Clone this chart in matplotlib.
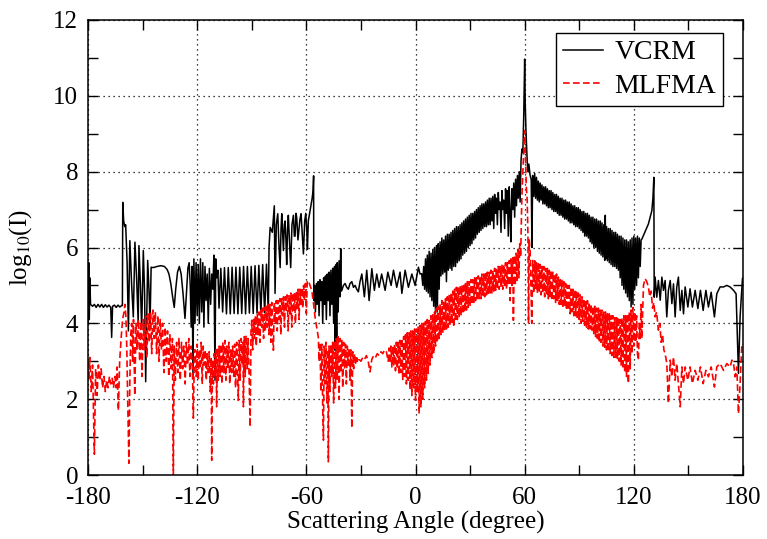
import matplotlib.pyplot as plt
import numpy as np

plt.rcParams['font.family'] = ['Liberation Serif', 'DejaVu Serif']
plt.rcParams['mathtext.fontset'] = 'stix'
plt.rcParams['font.size'] = 18
plt.rcParams['axes.unicode_minus'] = False

# (scattering angle in degree, log10 of intensity)
vcrm_points = [
    (-180.0, 4.0), (-179.6, 5.6), (-179.3, 4.1), (-179.0, 5.2), (-178.6, 4.5),
    (-177.5, 4.45), (-176.5, 4.5), (-175.5, 4.42), (-174.5, 4.5), (-173.5, 4.43),
    (-172.5, 4.5), (-171.5, 4.42), (-170.5, 4.49), (-169.5, 4.43), (-168.5, 4.48),
    (-167.5, 4.42), (-167.0, 3.63), (-166.5, 4.45), (-165.5, 4.48), (-164.5, 4.42),
    (-163.5, 4.48), (-162.5, 4.43), (-161.5, 4.47), (-161.1, 4.47), (-160.9, 7.19),
    (-160.4, 6.7), (-159.8, 6.55), (-159.3, 6.6), (-158.5, 5.6), (-157.8, 3.8),
    (-157.0, 6.18), (-156.0, 5.0), (-155.1, 4.17), (-154.2, 6.14), (-153.3, 5.2),
    (-152.4, 4.0), (-152.0, 6.05), (-151.2, 5.0), (-150.5, 3.85), (-149.6, 5.92),
    (-148.9, 4.8), (-148.3, 2.46), (-147.2, 5.66), (-146.5, 4.9), (-145.9, 4.0),
    (-145.3, 5.48), (-144.1, 5.47), (-142.0, 5.5), (-140.0, 5.52), (-138.0, 5.5),
    (-136.5, 5.42), (-135.5, 5.3), (-134.5, 5.05), (-133.5, 4.7), (-132.6, 4.42),
    (-131.8, 4.9), (-130.8, 5.35), (-129.8, 5.5), (-128.8, 5.3), (-127.8, 4.8),
    (-126.7, 4.13), (-125.9, 4.8), (-125.1, 5.45), (-124.4, 5.6), (-123.8, 5.0),
    (-123.3, 3.9), (-122.8, 5.5), (-122.3, 2.6), (-121.8, 5.7), (-121.2, 4.0),
    (-120.6, 5.6), (-120.0, 4.2), (-119.4, 5.55), (-118.8, 4.0), (-118.2, 5.7),
    (-117.5, 4.3), (-116.9, 5.6), (-116.3, 3.9), (-115.7, 5.5), (-115.1, 4.6),
    (-114.5, 5.3), (-113.9, 4.0), (-113.3, 5.45), (-112.6, 4.5), (-112.0, 5.3),
    (-111.4, 4.9), (-110.8, 5.8), (-110.2, 2.5), (-109.8, 5.7), (-109.2, 5.2),
    (-108.6, 5.4), (-108.0, 4.4), (-107.0, 5.45), (-106.0, 4.3), (-105.0, 5.47),
    (-103.9, 4.25), (-102.9, 5.47), (-101.8, 4.25), (-100.8, 5.48), (-99.7, 4.26),
    (-98.7, 5.48), (-97.6, 4.25), (-96.6, 5.48), (-95.5, 4.26), (-94.5, 5.5),
    (-93.4, 4.25), (-92.4, 5.5), (-91.3, 4.27), (-90.3, 5.5), (-89.2, 4.26),
    (-88.2, 5.52), (-87.1, 4.27), (-86.1, 5.53), (-85.0, 4.27), (-84.0, 5.55),
    (-82.9, 4.28), (-81.9, 5.56), (-80.9, 4.3), (-80.5, 6.0), (-79.9, 6.53),
    (-78.7, 6.4), (-77.6, 7.1), (-77.2, 4.79), (-76.5, 6.6), (-75.7, 6.89),
    (-75.0, 6.0), (-74.4, 5.47), (-73.9, 6.5), (-73.5, 6.89), (-72.6, 5.92),
    (-72.1, 6.6), (-71.7, 6.7), (-71.2, 6.2), (-70.8, 5.55), (-70.3, 6.5),
    (-69.9, 6.85), (-69.2, 6.1), (-68.6, 5.47), (-67.9, 6.6), (-67.1, 6.85),
    (-66.6, 6.3), (-66.2, 6.3), (-65.7, 6.9), (-65.3, 6.8), (-64.6, 6.2),
    (-64.0, 6.5), (-63.5, 6.75), (-62.9, 6.89), (-62.2, 6.3), (-61.6, 5.83),
    (-60.9, 6.7), (-60.3, 6.9), (-59.7, 6.4), (-59.4, 5.95), (-58.9, 6.7),
    (-58.2, 6.9), (-57.5, 7.1), (-56.8, 7.3), (-56.3, 7.5), (-56.0, 7.89),
    (-55.9, 4.6), (-55.5, 5.0), (-55.0, 4.3), (-54.5, 5.05), (-54.0, 4.5),
    (-53.5, 5.1), (-53.0, 4.2), (-52.5, 5.15), (-52.0, 4.6), (-51.5, 5.1),
    (-51.0, 4.0), (-50.5, 5.2), (-50.0, 4.5), (-49.5, 5.25), (-49.0, 4.1),
    (-48.5, 5.3), (-48.0, 4.6), (-47.5, 5.35), (-47.0, 4.2), (-46.5, 5.4),
    (-46.0, 4.5), (-45.5, 5.45), (-45.0, 4.0), (-44.5, 5.5), (-44.2, 3.29),
    (-43.8, 5.55), (-43.3, 3.3), (-43.0, 5.6), (-42.5, 4.3), (-42.0, 5.65),
    (-41.5, 4.7), (-41.1, 5.97), (-40.8, 4.85), (-40.5, 4.87), (-39.6, 5.0),
    (-38.7, 5.05), (-37.8, 4.95), (-36.9, 4.9), (-36.0, 5.05), (-35.0, 5.1),
    (-34.1, 4.95), (-33.2, 5.0), (-32.3, 4.9), (-31.4, 4.83), (-30.5, 5.1),
    (-29.5, 5.3), (-28.1, 4.7), (-26.8, 5.4), (-25.5, 4.6), (-24.0, 5.44),
    (-22.6, 4.87), (-21.3, 5.3), (-20.0, 4.95), (-18.6, 5.3), (-16.7, 4.87),
    (-15.2, 5.35), (-13.4, 5.0), (-12.1, 5.4), (-10.3, 4.95), (-8.5, 5.35),
    (-7.5, 4.79), (-5.7, 5.4), (-3.9, 4.95), (-2.0, 5.3), (-0.2, 5.0),
    (1.6, 5.48), (2.5, 5.3), (3.4, 5.31), (4.0, 5.0), (4.5, 5.5),
    (5.0, 4.9), (5.5, 5.7), (6.0, 4.85), (6.5, 5.8), (7.0, 4.8),
    (7.5, 5.9), (8.0, 4.7), (8.5, 5.85), (9.0, 4.6), (9.5, 5.95),
    (10.0, 4.45), (10.5, 6.0), (11.0, 4.26), (11.5, 6.05), (12.0, 4.3),
    (12.5, 6.1), (13.0, 4.9), (13.5, 6.15), (14.0, 5.25), (14.5, 6.25),
    (15.0, 5.3), (15.5, 6.2), (16.0, 5.35), (16.5, 6.3), (17.0, 5.1),
    (17.5, 6.35), (18.0, 5.4), (18.5, 6.35), (19.0, 5.45), (19.5, 6.4),
    (20.0, 5.4), (20.5, 6.45), (21.0, 5.5), (21.5, 6.5), (22.0, 5.5),
    (22.5, 6.55), (23.0, 5.6), (23.5, 6.55), (24.0, 5.65), (24.5, 6.6),
    (25.0, 5.7), (25.5, 6.65), (26.0, 5.8), (26.5, 6.7), (27.0, 5.85),
    (27.5, 6.75), (28.0, 5.9), (28.5, 6.8), (29.0, 6.0), (29.5, 6.85),
    (30.0, 6.05), (30.5, 6.9), (31.0, 6.1), (31.5, 6.9), (32.0, 6.2),
    (32.5, 6.95), (33.0, 6.25), (33.5, 7.0), (34.0, 6.35), (34.5, 7.05),
    (35.0, 6.4), (35.5, 7.1), (36.0, 6.45), (36.5, 7.15), (37.0, 6.5),
    (37.5, 7.15), (38.0, 6.55), (38.5, 7.2), (39.0, 6.55), (39.5, 7.25),
    (40.0, 6.6), (40.5, 7.3), (41.0, 6.6), (41.5, 7.3), (42.0, 6.7),
    (42.5, 7.35), (43.0, 6.5), (43.5, 7.4), (44.0, 6.9), (44.5, 7.3),
    (45.0, 6.6), (45.5, 7.45), (46.0, 7.0), (46.5, 7.2), (47.0, 6.4),
    (47.5, 7.5), (48.0, 7.0), (48.5, 7.25), (49.0, 6.5), (49.5, 7.55),
    (50.0, 6.9), (50.5, 7.5), (51.0, 6.3), (51.5, 7.6), (52.0, 6.9),
    (52.4, 6.15), (53.0, 7.55), (53.5, 7.0), (54.0, 7.7), (54.5, 6.8),
    (55.0, 7.8), (55.5, 7.1), (56.0, 7.9), (56.5, 7.3), (57.0, 8.0),
    (57.5, 7.2), (58.0, 8.3), (58.5, 8.6), (59.0, 8.5), (59.5, 9.5),
    (60.0, 10.97), (60.3, 9.8), (60.7, 9.1), (61.2, 8.5), (61.7, 8.0),
    (62.3, 8.2), (63.0, 7.9), (63.6, 7.8), (64.0, 6.0), (64.4, 7.9),
    (65.0, 7.35), (65.5, 7.95), (66.0, 7.3), (66.5, 7.85), (67.0, 7.25),
    (67.5, 7.75), (68.0, 7.2), (68.5, 7.7), (69.0, 7.25), (69.5, 7.65),
    (70.0, 7.15), (70.5, 7.6), (71.0, 7.15), (71.5, 7.6), (72.0, 7.1),
    (72.5, 7.55), (73.0, 7.05), (73.5, 7.5), (74.0, 7.05), (74.5, 7.5),
    (75.0, 7.0), (75.5, 7.45), (76.0, 6.95), (76.5, 7.4), (77.0, 6.95),
    (77.5, 7.4), (78.0, 6.9), (78.5, 7.35), (79.0, 6.85), (79.5, 7.3),
    (80.0, 6.85), (80.5, 7.3), (81.0, 6.8), (81.5, 7.25), (82.0, 6.75),
    (82.5, 7.25), (83.0, 6.75), (83.5, 7.2), (84.0, 6.7), (84.5, 7.2),
    (85.0, 6.65), (85.5, 7.15), (86.0, 6.65), (86.5, 7.1), (87.0, 6.6),
    (87.5, 7.1), (88.0, 6.55), (88.5, 7.05), (89.0, 6.55), (89.5, 7.05),
    (90.0, 6.5), (90.5, 7.0), (91.0, 6.45), (91.5, 6.95), (92.0, 6.4),
    (92.5, 6.95), (93.0, 6.3), (93.5, 6.9), (94.0, 6.3), (94.5, 6.9),
    (95.0, 6.25), (95.5, 6.85), (96.0, 6.15), (96.5, 6.8), (97.0, 6.1),
    (97.5, 6.8), (98.0, 6.0), (98.5, 6.75), (99.0, 6.0), (99.5, 6.75),
    (100.0, 5.9), (100.5, 6.7), (101.0, 5.85), (101.5, 6.7), (102.0, 5.8),
    (102.5, 6.65), (103.0, 5.75), (103.5, 6.6), (104.0, 5.66), (104.3, 6.85),
    (104.6, 5.7), (105.0, 6.55), (105.5, 5.65), (106.0, 6.5), (106.5, 5.6),
    (107.0, 6.5), (107.5, 5.55), (108.0, 6.45), (108.5, 5.5), (109.0, 6.4),
    (109.5, 5.5), (110.0, 6.4), (110.5, 5.45), (111.0, 6.35), (111.5, 5.4),
    (112.0, 6.3), (112.5, 5.2), (113.0, 6.3), (113.5, 5.0), (114.0, 6.25),
    (114.5, 4.9), (115.0, 6.2), (115.5, 4.8), (116.0, 6.2), (116.5, 4.7),
    (117.0, 6.15), (117.5, 4.6), (118.0, 6.2), (118.5, 4.43), (119.0, 6.25),
    (119.5, 4.5), (120.0, 6.3), (120.5, 4.9), (121.0, 6.25), (121.5, 5.0),
    (122.0, 6.3), (122.5, 5.2), (123.0, 6.25), (123.5, 5.5), (124.0, 6.2),
    (124.5, 6.23), (126.0, 6.4), (128.0, 6.62), (129.9, 6.97), (130.5, 7.3),
    (131.0, 7.85), (131.2, 4.69), (131.7, 5.22), (132.6, 4.69), (133.5, 5.13),
    (134.5, 4.61), (135.4, 5.22), (136.3, 4.87), (137.2, 5.13), (138.1, 4.17),
    (139.0, 4.87), (140.0, 5.13), (140.9, 4.52), (141.8, 5.04), (142.7, 4.17),
    (143.6, 4.96), (144.5, 5.22), (145.5, 4.34), (146.4, 4.87), (147.3, 4.25),
    (148.2, 4.96), (149.7, 4.43), (150.9, 4.91), (152.2, 4.43), (153.7, 4.87),
    (155.2, 4.39), (156.6, 4.87), (158.1, 4.34), (159.6, 4.87), (161.0, 4.43),
    (162.5, 4.82), (164.3, 4.17), (165.6, 4.78), (167.4, 4.96), (169.3, 4.96),
    (171.1, 5.0), (172.9, 4.96), (174.8, 4.87), (176.2, 4.78), (177.5, 2.68),
    (178.4, 4.17), (179.7, 5.18), (180.0, 5.2),
]

mlfma_points = [
    (-180.0, 3.0), (-179.5, 2.5), (-179.0, 3.1), (-178.2, 2.2), (-177.5, 2.9),
    (-176.5, 0.55), (-175.8, 2.8), (-175.0, 2.1), (-174.3, 2.9), (-173.5, 2.5),
    (-172.8, 2.8), (-172.0, 2.3), (-171.2, 2.6), (-170.5, 2.2), (-169.7, 2.5),
    (-169.0, 2.3), (-168.2, 2.6), (-167.5, 2.4), (-166.7, 2.55), (-166.0, 2.3),
    (-165.2, 2.6), (-164.5, 2.3), (-164.0, 2.85), (-163.3, 1.7), (-162.6, 3.0),
    (-161.8, 3.6), (-161.0, 4.1), (-160.2, 4.3), (-159.7, 4.5), (-159.2, 4.2),
    (-158.7, 3.4), (-158.2, 2.0), (-157.5, 0.31), (-157.0, 2.5), (-156.5, 3.7),
    (-156.0, 4.0), (-155.5, 3.0), (-155.0, 4.1), (-154.3, 2.1), (-153.6, 4.0),
    (-153.0, 3.3), (-152.3, 4.1), (-151.6, 3.0), (-151.0, 4.05), (-150.3, 2.6),
    (-149.6, 4.1), (-149.0, 3.3), (-148.3, 4.2), (-147.6, 3.1), (-147.0, 4.25),
    (-146.3, 3.5), (-145.6, 4.3), (-145.0, 3.2), (-144.3, 4.35), (-143.6, 3.6),
    (-143.0, 4.3), (-142.3, 3.2), (-141.6, 4.2), (-141.0, 3.0), (-140.3, 4.1),
    (-139.6, 3.3), (-139.0, 4.0), (-138.3, 2.7), (-137.6, 3.9), (-137.0, 3.0),
    (-136.3, 3.8), (-135.6, 2.6), (-135.0, 3.7), (-134.3, 2.8), (-133.6, 3.6),
    (-133.1, 0.0), (-132.6, 3.4), (-132.0, 2.5), (-131.3, 3.5), (-130.6, 2.7),
    (-130.0, 3.6), (-129.3, 2.5), (-128.6, 3.5), (-128.0, 2.8), (-127.3, 3.4),
    (-126.6, 2.4), (-126.0, 3.5), (-125.3, 2.9), (-124.6, 3.6), (-124.0, 2.6),
    (-123.3, 3.4), (-122.6, 2.8), (-122.1, 1.5), (-121.5, 3.3), (-121.0, 3.3),
    (-120.5, 2.6), (-120.0, 3.45), (-119.4, 2.5), (-118.9, 3.3), (-118.3, 2.8),
    (-117.8, 3.5), (-117.2, 2.4), (-116.7, 3.4), (-116.1, 2.9), (-115.6, 3.3),
    (-115.0, 2.5), (-114.5, 3.2), (-113.9, 2.7), (-113.4, 3.25), (-112.8, 2.2),
    (-112.3, 3.1), (-112.0, 0.39), (-111.6, 3.0), (-111.1, 2.4), (-110.6, 3.2),
    (-110.1, 2.6), (-109.6, 3.3), (-109.3, 1.8), (-108.9, 3.35), (-108.4, 2.5),
    (-107.9, 3.4), (-107.4, 2.6), (-106.9, 3.45), (-106.4, 2.4), (-105.9, 3.5),
    (-105.3, 2.7), (-104.8, 3.55), (-104.2, 2.5), (-103.7, 3.4), (-103.2, 2.8),
    (-102.6, 3.5), (-102.1, 2.4), (-101.5, 3.3), (-101.0, 2.7), (-100.5, 3.4),
    (-99.9, 2.6), (-99.4, 3.45), (-98.9, 2.3), (-98.3, 3.5), (-97.8, 2.8),
    (-97.4, 1.97), (-96.9, 3.55), (-96.4, 2.5), (-95.8, 3.6), (-95.3, 2.9),
    (-94.8, 3.5), (-94.6, 1.8), (-94.1, 3.65), (-93.6, 2.6), (-93.1, 3.68),
    (-92.5, 2.8), (-92.0, 3.6), (-91.4, 2.5), (-90.9, 1.27), (-90.4, 3.8),
    (-90.0, 4.08), (-89.5, 3.3), (-89.0, 4.1), (-88.5, 3.6), (-88.0, 4.2),
    (-87.5, 3.4), (-87.0, 4.25), (-86.5, 3.7), (-86.0, 4.3), (-85.5, 3.5),
    (-85.0, 4.35), (-84.5, 3.9), (-84.0, 4.4), (-83.5, 3.6), (-83.0, 4.42),
    (-82.5, 3.8), (-82.0, 4.45), (-81.5, 3.9), (-81.0, 4.5), (-80.5, 3.7),
    (-80.0, 4.5), (-79.5, 3.5), (-79.0, 4.55), (-78.5, 3.6), (-78.1, 3.29),
    (-77.6, 4.55), (-77.0, 4.0), (-76.5, 4.6), (-76.0, 3.8), (-75.5, 4.6),
    (-75.0, 4.1), (-74.5, 4.65), (-74.0, 3.7), (-73.5, 4.65), (-73.0, 4.2),
    (-72.5, 4.7), (-72.0, 3.9), (-71.5, 4.7), (-71.0, 4.3), (-70.5, 4.75),
    (-70.0, 3.8), (-69.5, 4.75), (-69.0, 4.2), (-68.5, 4.8), (-68.0, 3.9),
    (-67.5, 4.8), (-67.0, 4.3), (-66.5, 4.8), (-66.0, 4.0), (-65.5, 4.85),
    (-65.0, 4.4), (-64.5, 4.9), (-64.0, 4.1), (-63.5, 4.9), (-63.0, 4.5),
    (-62.5, 4.95), (-62.0, 4.4), (-61.5, 5.0), (-61.0, 4.6), (-60.5, 5.05),
    (-60.0, 4.26), (-59.5, 5.1), (-58.9, 5.13), (-58.0, 5.0), (-57.0, 4.87),
    (-56.0, 4.5), (-55.2, 4.16), (-54.3, 3.9), (-53.4, 3.63), (-53.0, 3.0),
    (-52.5, 3.5), (-52.0, 2.2), (-51.5, 3.45), (-51.0, 1.8), (-50.6, 0.92),
    (-50.2, 3.4), (-49.7, 2.4), (-49.2, 3.5), (-48.7, 1.9), (-48.2, 3.3),
    (-47.9, 0.35), (-47.5, 3.4), (-47.0, 2.2), (-46.5, 3.45), (-46.0, 2.6),
    (-45.5, 3.5), (-45.0, 1.9), (-44.5, 3.55), (-44.0, 2.3), (-43.5, 3.6),
    (-43.0, 2.5), (-42.5, 3.65), (-42.0, 2.0), (-41.5, 3.6), (-41.0, 2.7),
    (-40.5, 3.55), (-40.0, 2.3), (-39.5, 3.5), (-39.0, 2.8), (-38.5, 3.45),
    (-38.0, 2.4), (-37.5, 3.4), (-37.0, 2.9), (-36.5, 3.35), (-36.0, 2.5),
    (-35.5, 3.3), (-35.0, 1.24), (-34.5, 3.25), (-34.0, 2.8), (-33.5, 3.2),
    (-33.0, 2.9), (-32.5, 3.15), (-32.0, 3.0), (-31.5, 3.1), (-31.0, 3.05),
    (-30.0, 3.0), (-29.0, 3.1), (-28.0, 3.05), (-27.0, 3.15), (-26.0, 3.0),
    (-25.0, 2.72), (-24.0, 3.05), (-23.0, 3.15), (-22.0, 3.1), (-21.0, 3.2),
    (-20.0, 3.15), (-19.0, 3.25), (-18.0, 3.2), (-17.0, 3.3), (-16.0, 3.25),
    (-15.0, 3.0), (-14.5, 3.35), (-14.0, 2.95), (-13.5, 3.4), (-13.0, 2.85),
    (-12.5, 3.4), (-12.0, 2.9), (-11.5, 3.45), (-11.0, 2.75), (-10.5, 3.5),
    (-10.0, 2.8), (-9.5, 3.5), (-9.0, 2.65), (-8.5, 3.55), (-8.0, 2.7),
    (-7.5, 3.6), (-7.0, 2.5), (-6.5, 3.65), (-6.0, 2.6), (-5.5, 3.7),
    (-5.0, 2.4), (-4.5, 3.75), (-4.0, 2.5), (-3.5, 3.75), (-3.0, 2.25),
    (-2.5, 3.8), (-2.0, 2.1), (-1.5, 3.8), (-1.0, 2.3), (-0.5, 3.85),
    (0.0, 1.97), (0.5, 3.85), (1.0, 2.2), (1.5, 3.9), (2.0, 1.62),
    (2.5, 3.95), (3.0, 1.8), (3.5, 4.0), (4.0, 2.0), (4.5, 4.0),
    (5.0, 2.3), (5.5, 4.05), (6.0, 2.5), (6.5, 4.1), (7.0, 2.68),
    (7.5, 4.1), (8.0, 2.9), (8.5, 4.2), (9.0, 3.1), (9.5, 4.25),
    (10.0, 3.2), (10.5, 4.3), (11.0, 3.4), (11.5, 4.4), (12.0, 3.5),
    (12.5, 4.45), (13.0, 3.6), (13.5, 4.5), (14.0, 3.7), (14.5, 4.6),
    (15.0, 3.75), (15.5, 4.6), (16.0, 3.8), (16.5, 4.65), (17.0, 3.85),
    (17.5, 4.7), (18.0, 3.9), (18.5, 4.75), (19.0, 3.95), (19.5, 4.8),
    (20.0, 4.0), (20.5, 4.85), (21.0, 3.9), (21.5, 4.9), (22.0, 4.05),
    (22.5, 4.95), (23.0, 4.1), (23.5, 4.95), (24.0, 4.15), (24.5, 5.0),
    (25.0, 4.2), (25.5, 5.0), (26.0, 4.25), (26.5, 5.05), (27.0, 4.3),
    (27.5, 5.05), (28.0, 4.35), (28.5, 5.1), (29.0, 4.42), (29.5, 5.1),
    (30.0, 4.45), (30.5, 5.15), (31.0, 4.5), (31.5, 5.15), (32.0, 4.55),
    (32.5, 5.2), (33.0, 4.6), (33.5, 5.2), (34.0, 4.6), (34.5, 5.25),
    (35.0, 4.65), (35.5, 5.25), (36.0, 4.65), (36.5, 5.3), (37.0, 4.7),
    (37.5, 5.3), (38.0, 4.7), (38.5, 5.35), (39.0, 4.75), (39.5, 5.35),
    (40.0, 4.75), (40.5, 5.35), (41.0, 4.8), (41.5, 5.4), (42.0, 4.8),
    (42.5, 5.4), (43.0, 4.85), (43.5, 5.45), (44.0, 4.87), (44.5, 5.45),
    (45.0, 4.9), (45.5, 5.5), (46.0, 4.9), (46.5, 5.5), (47.0, 4.95),
    (47.5, 5.55), (48.0, 4.9), (48.5, 5.55), (49.0, 5.0), (49.5, 5.6),
    (50.0, 4.9), (50.5, 5.6), (51.0, 5.0), (51.5, 5.65), (52.0, 4.6),
    (52.5, 5.7), (53.0, 5.0), (53.5, 5.75), (53.8, 4.08), (54.3, 5.8),
    (54.8, 5.0), (55.3, 5.85), (55.8, 5.1), (56.3, 5.95), (56.8, 5.2),
    (57.3, 6.1), (57.8, 5.75), (58.4, 7.24), (59.0, 8.0), (59.6, 8.7),
    (60.0, 9.08), (60.4, 8.5), (60.9, 7.6), (61.4, 7.24), (61.8, 6.3),
    (62.1, 4.0), (62.5, 6.2), (63.0, 5.9), (63.9, 4.0), (64.4, 5.66),
    (65.0, 4.8), (65.5, 5.65), (66.0, 4.9), (66.5, 5.6), (67.0, 4.8),
    (67.5, 5.6), (68.0, 4.85), (68.5, 5.55), (69.0, 4.75), (69.5, 5.5),
    (70.0, 4.8), (70.5, 5.5), (71.0, 4.7), (71.5, 5.45), (72.0, 4.75),
    (72.5, 5.45), (73.0, 4.65), (73.5, 5.4), (74.0, 4.7), (74.5, 5.4),
    (75.0, 4.6), (75.5, 5.35), (76.0, 4.65), (76.5, 5.3), (77.0, 4.55),
    (77.5, 5.3), (78.0, 4.6), (78.5, 5.22), (79.0, 4.5), (79.5, 5.2),
    (80.0, 4.5), (80.5, 5.15), (81.0, 4.4), (81.5, 5.1), (82.0, 4.45),
    (82.5, 5.05), (83.0, 4.35), (83.5, 5.0), (84.0, 4.35), (84.5, 5.0),
    (85.0, 4.25), (85.5, 4.95), (86.0, 4.3), (86.5, 4.9), (87.0, 4.2),
    (87.5, 4.9), (88.0, 4.2), (88.5, 4.85), (89.0, 4.1), (89.5, 4.8),
    (90.0, 4.1), (90.5, 4.75), (91.0, 4.0), (91.5, 4.7), (92.0, 4.05),
    (92.5, 4.65), (93.0, 3.95), (93.5, 4.6), (94.0, 3.9), (94.5, 4.6),
    (95.0, 3.85), (95.5, 4.55), (96.0, 3.85), (96.5, 4.5), (97.0, 3.82),
    (97.5, 4.45), (98.0, 3.7), (98.5, 4.45), (99.0, 3.65), (99.5, 4.4),
    (100.0, 3.6), (100.5, 4.4), (101.0, 3.5), (101.5, 4.35), (102.0, 3.5),
    (102.5, 4.35), (103.0, 3.4), (103.5, 4.3), (104.0, 3.37), (104.5, 4.3),
    (105.0, 3.3), (105.5, 4.25), (106.0, 3.25), (106.5, 4.25), (107.0, 3.2),
    (107.5, 4.2), (108.0, 3.15), (108.5, 4.2), (109.0, 3.1), (109.5, 4.15),
    (110.0, 3.1), (110.5, 4.15), (111.0, 3.05), (111.5, 4.16), (112.0, 3.0),
    (112.5, 4.1), (113.0, 2.9), (113.5, 4.15), (114.0, 2.8), (114.5, 4.2),
    (115.0, 2.7), (115.5, 4.2), (116.0, 2.6), (116.5, 4.25), (117.0, 2.42),
    (117.5, 4.3), (118.0, 2.8), (118.5, 4.35), (119.0, 3.2), (119.5, 4.42),
    (120.0, 3.4), (120.5, 4.3), (121.0, 3.5), (121.5, 4.2), (122.0, 3.2),
    (122.5, 3.03), (123.0, 4.0), (123.5, 3.6), (124.0, 4.5), (124.4, 3.6),
    (125.3, 5.0), (126.2, 5.18), (127.1, 5.1), (128.0, 4.96), (128.8, 4.7),
    (129.5, 4.85), (130.3, 4.4), (131.0, 4.55), (131.7, 4.17), (132.5, 4.3),
    (133.5, 3.82), (134.3, 4.0), (135.0, 3.5), (135.8, 3.7), (136.5, 3.3),
    (137.2, 3.2), (138.1, 2.95), (139.0, 1.89), (140.0, 3.03), (140.9, 2.59),
    (141.8, 3.11), (142.7, 2.5), (143.6, 2.94), (144.5, 2.41), (145.5, 1.8),
    (146.4, 2.85), (147.3, 2.41), (148.2, 2.85), (149.7, 2.5), (150.9, 2.85),
    (152.2, 2.41), (153.7, 2.76), (155.2, 2.5), (156.6, 2.85), (158.1, 2.41),
    (159.6, 2.76), (161.0, 2.59), (162.5, 2.85), (164.3, 2.32), (165.6, 2.85),
    (167.4, 2.94), (169.3, 2.76), (171.1, 2.94), (172.9, 2.85), (173.9, 3.03),
    (174.8, 2.94), (175.7, 2.59), (176.6, 2.85), (177.5, 1.62), (178.4, 2.41),
    (179.3, 3.38), (180.0, 3.29),
]

vcrm_angle, vcrm_log = np.array(vcrm_points).T
mlfma_angle, mlfma_log = np.array(mlfma_points).T

fig = plt.figure(figsize=(7.67, 5.39), dpi=100)
ax = fig.add_axes([88 / 767, 1 - 475 / 539, (743 - 88) / 767, (475 - 20) / 539])

ax.plot(vcrm_angle, vcrm_log, color='black', lw=1.1, label='VCRM')
ax.plot(mlfma_angle, mlfma_log, color='red', lw=1.2, ls=(0, (4, 2)), label='MLFMA')

ax.set_xlim(-180, 180)
ax.set_ylim(0, 12)
ax.set_xticks(np.arange(-180, 181, 60))
ax.set_xticks(np.arange(-150, 180, 60), minor=True)
ax.set_yticks(np.arange(0, 13, 2))
ax.set_yticks(np.arange(1, 12, 2), minor=True)
ax.grid(True, which='major', color='black', ls=(0, (1, 3)), lw=0.9)
ax.tick_params(which='both', direction='in', top=True, right=True,
               length=7, width=1.0)
ax.tick_params(axis='x', pad=9)
ax.tick_params(axis='y', pad=7)
for spine in ax.spines.values():
    spine.set_linewidth(1.1)

ax.set_xlabel('Scattering Angle (degree)', labelpad=1)
ax.set_ylabel('log$_{10}$(I)', labelpad=14)

leg = ax.legend(loc='upper left', bbox_to_anchor=((556 - 88) / 655, (475 - 33) / 455),
                fontsize=20, fancybox=False, edgecolor='black', framealpha=1,
                handlelength=1.45, handletextpad=0.4, borderpad=0.25,
                borderaxespad=0, labelspacing=0.3)
leg.get_frame().set_linewidth(1.0)

fig.savefig('out.png', dpi=100)
